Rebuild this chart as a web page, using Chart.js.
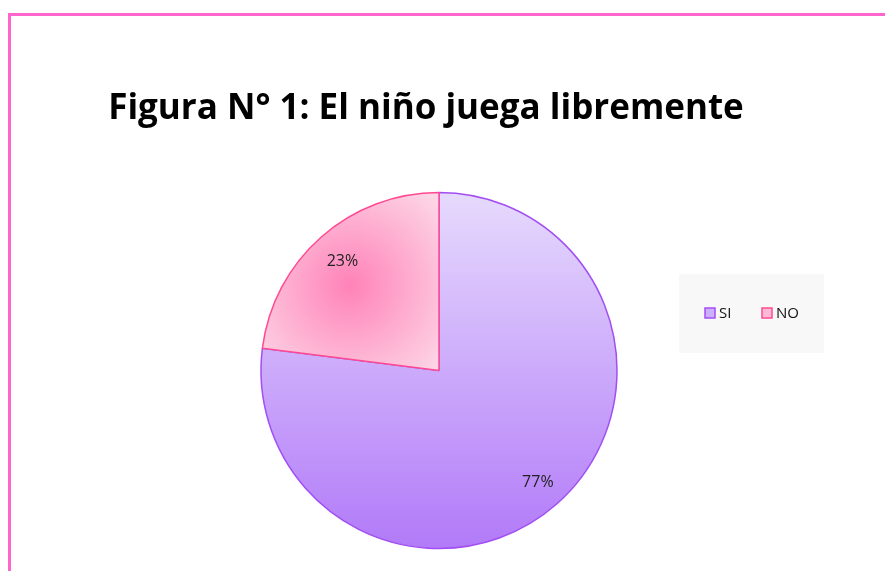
<!DOCTYPE html>
<html>
<head>
<meta charset="utf-8">
<script src="https://cdn.jsdelivr.net/npm/chart.js@4/dist/chart.umd.min.js"></script>
<style>
html,body{margin:0;padding:0;background:#fff;}
#wrap{position:relative;width:885px;height:571px;overflow:hidden;}
#frame{position:absolute;left:8px;top:13px;width:900px;height:600px;border:3px solid #ff66cc;box-sizing:border-box;}
canvas{position:absolute;left:0;top:0;}
</style>
</head>
<body>
<div id="wrap">
<div id="frame"></div>
<canvas id="c" width="885" height="571"></canvas>
</div>
<script>
const titleText = "Figura N° 1: El niño juega libremente";
const categories = ["SI", "NO"];
const values = [77, 23];
const percentLabels = ["77%", "23%"];

const sliceBorders = ["#a24ef3", "#ff4a92"];
const PIE_R = 178;

function sliceFill(ctx) {
  const chart = ctx.chart;
  const ca = chart.chartArea;
  if (!ca || !isFinite(ca.left) || !isFinite(ca.top)) return ctx.dataIndex === 0 ? "#cba8fa" : "#ffb0d0";
  const c = chart.ctx;
  const cx = (ca.left + ca.right) / 2, cy = (ca.top + ca.bottom) / 2, r = PIE_R;
  if (ctx.dataIndex === 0) {
    const g = c.createLinearGradient(0, cy - r, 0, cy + r);
    g.addColorStop(0, "#e6dafd");
    g.addColorStop(1, "#b27af8");
    return g;
  } else {
    const px = cx - r * 0.5, py = cy - r * 0.48;
    const g = c.createRadialGradient(px, py, 0, px, py, r * 0.68);
    g.addColorStop(0, "#ff82b8");
    g.addColorStop(1, "#fdd6e6");
    return g;
  }
}

const titlePlugin = {
  id: "customTitle",
  afterDraw(chart) {
    const c = chart.ctx;
    c.save();
    c.font = "bold 35px 'Open Sans', 'DejaVu Sans', sans-serif";
    c.fillStyle = "#000";
    c.textAlign = "center";
    c.textBaseline = "alphabetic";
    c.fillText(titleText, 426, 119);
    c.restore();
  }
};

const labelPlugin = {
  id: "pctLabels",
  afterDatasetsDraw(chart) {
    const c = chart.ctx;
    const meta = chart.getDatasetMeta(0);
    c.save();
    c.font = "16px 'Open Sans', 'DejaVu Sans', sans-serif";
    c.fillStyle = "#222";
    c.textAlign = "center";
    c.textBaseline = "middle";
    meta.data.forEach((arc, i) => {
      const mid = (arc.startAngle + arc.endAngle) / 2;
      const rr = arc.outerRadius * (i === 0 ? 0.84 : 0.82);
      const x = arc.x + Math.cos(mid) * rr;
      const y = arc.y + Math.sin(mid) * rr;
      c.fillText(percentLabels[i], x, y);
    });
    c.restore();
  }
};

const legendPlugin = {
  id: "customLegend",
  afterDraw(chart) {
    const c = chart.ctx;
    c.save();
    c.fillStyle = "#f8f8f8";
    c.fillRect(679, 274, 145, 79);
    c.font = "15px 'Open Sans', 'DejaVu Sans', sans-serif";
    c.textBaseline = "middle";
    c.textAlign = "left";
    const xs = [705, 762];
    const fills = ["#cdb0fb", "#fdbad6"];
    categories.forEach((cat, i) => {
      const x = xs[i], y = 313;
      c.fillStyle = fills[i];
      c.fillRect(x, y - 5, 10, 10);
      c.strokeStyle = sliceBorders[i];
      c.lineWidth = 1.5;
      c.strokeRect(x, y - 5, 10, 10);
      c.fillStyle = "#111";
      c.fillText(cat, x + 14, y + 1);
    });
    c.restore();
  }
};

new Chart(document.getElementById("c"), {
  type: "pie",
  data: {
    labels: categories,
    datasets: [{
      data: values,
      backgroundColor: sliceFill,
      borderColor: sliceBorders,
      borderWidth: 1.5,
      hoverOffset: 0
    }]
  },
  options: {
    responsive: false,
    animation: false,
    radius: PIE_R,
    layout: { padding: { left: 0, right: 7, top: 190, bottom: 20 } },
    plugins: {
      legend: { display: false },
      title: { display: false },
      tooltip: { enabled: false }
    }
  },
  plugins: [titlePlugin, labelPlugin, legendPlugin]
});
</script>
</body>
</html>
